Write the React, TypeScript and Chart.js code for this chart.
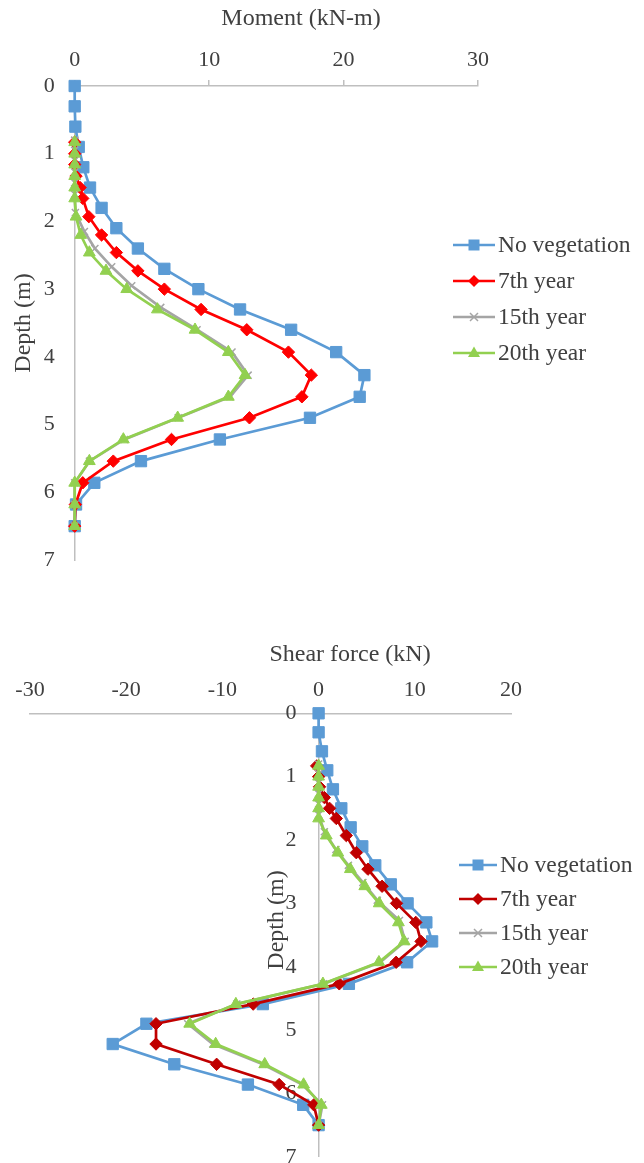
import React, { useEffect, useRef } from 'react';
import { Chart, registerables } from 'chart.js';

Chart.register(...registerables);

// ---------- data ----------
const seriesNames = ['No vegetation', '7th year', '15th year', '20th year'];

const depthTicks = [0, 1, 2, 3, 4, 5, 6, 7];
const momentTicks = [0, 10, 20, 30];
const shearTicks = [-30, -20, -10, 0, 10, 20];

const depthNoVeg = [0, 0.3, 0.6, 0.9, 1.2, 1.5, 1.8, 2.1, 2.4, 2.7, 3.0, 3.3, 3.6, 3.93, 4.27, 4.59, 4.9, 5.22, 5.54, 5.86, 6.18, 6.5];
const depthVeg = [0.83, 1.0, 1.16, 1.33, 1.5, 1.66, 1.93, 2.2, 2.46, 2.73, 3.0, 3.3, 3.6, 3.93, 4.27, 4.59, 4.9, 5.22, 5.54, 5.86, 6.18, 6.5];
const depth15 = [0.8, 0.95, 1.1, 1.27, 1.43, 1.6, 1.87, 2.15, 2.4, 2.67, 2.95, 3.27, 3.6, 3.93, 4.27, 4.59, 4.9, 5.22, 5.54, 5.86, 6.18, 6.5];

const momentNoVeg = [0, 0, 0.05, 0.3, 0.64, 1.14, 2.0, 3.1, 4.7, 6.67, 9.2, 12.3, 16.1, 19.45, 21.55, 21.2, 17.5, 10.8, 4.93, 1.46, 0.1, 0];
const moment7 = [0, 0, 0, 0.1, 0.4, 0.6, 1.05, 2.0, 3.1, 4.7, 6.67, 9.4, 12.8, 15.9, 17.6, 16.9, 13.0, 7.2, 2.87, 0.6, 0.05, 0];
const moment15 = [0, 0, 0, 0, 0, 0, 0.05, 0.72, 1.5, 2.75, 4.24, 6.4, 9.1, 11.7, 12.9, 11.55, 7.7, 3.7, 1.1, 0, 0, 0];
const moment20 = [0, 0, 0, 0, 0, 0, 0.1, 0.45, 1.09, 2.33, 3.87, 6.15, 8.95, 11.43, 12.67, 11.43, 7.66, 3.62, 1.09, 0, 0, 0];

const shearNoVeg = [0, 0, 0.35, 0.9, 1.49, 2.36, 3.33, 4.54, 5.89, 7.5, 9.25, 11.2, 11.8, 9.2, 3.15, -5.8, -17.9, -21.4, -15, -7.35, -1.6, 0];
const shear7 = [-0.2, 0, 0.1, 0.6, 1.14, 1.84, 2.88, 3.92, 5.13, 6.6, 8.1, 10.1, 10.65, 8.06, 2.15, -6.8, -16.9, -16.9, -10.6, -4.1, -0.5, 0];
const shear15 = [0, 0, 0, 0, 0, 0, 0.6, 1.8, 3.1, 4.6, 6.1, 8.4, 9.0, 6.4, 0.5, -8.5, -13.6, -11.0, -5.8, -1.7, 0.4, 0];
const shear20 = [0, 0, 0, 0, 0, 0, 0.8, 2.0, 3.3, 4.8, 6.3, 8.3, 8.9, 6.27, 0.45, -8.6, -13.4, -10.7, -5.6, -1.56, 0.28, 0];

// ---------- styles ----------
const FONT = 'Liberation Serif';
const TEXT = '#404040';
const AXIS = '#BFBFBF';
const BLUE = '#5B9BD5';
const RED_TOP = '#FF0000';
const RED_BOTTOM = '#C00000';
const GRAY = '#A5A5A5';
const GREEN = '#92D050';

const STYLES = ['rect', 'rectRot', 'crossRot', 'triangle'];
const RADII = [8, 6.2, 5, 6.8];

function series(i: number, xs: number[], ys: number[], color: string) {
  const style = STYLES[i];
  return {
    label: seriesNames[i],
    data: xs.map((v, k) => ({ x: v, y: ys[k] })),
    showLine: true,
    borderColor: color,
    backgroundColor: color,
    borderWidth: 2.7,
    pointStyle: style,
    pointRadius: RADII[i],
    pointHoverRadius: RADII[i],
    pointBorderWidth: style === 'crossRot' ? 1.5 : 1,
    pointBackgroundColor: color,
    pointBorderColor: color,
    order: 3 - i,
    tension: 0,
    clip: false as any,
  };
}

function drawMarker(ctx: CanvasRenderingContext2D, style: string, x: number, y: number, color: string) {
  ctx.save();
  ctx.fillStyle = color;
  ctx.strokeStyle = color;
  ctx.lineWidth = 1.5;
  ctx.beginPath();
  if (style === 'rect') {
    ctx.rect(x - 5.5, y - 5.5, 11, 11);
    ctx.fill();
  } else if (style === 'rectRot') {
    ctx.moveTo(x, y - 6);
    ctx.lineTo(x + 6, y);
    ctx.lineTo(x, y + 6);
    ctx.lineTo(x - 6, y);
    ctx.closePath();
    ctx.fill();
  } else if (style === 'crossRot') {
    ctx.moveTo(x - 4, y - 4);
    ctx.lineTo(x + 4, y + 4);
    ctx.moveTo(x + 4, y - 4);
    ctx.lineTo(x - 4, y + 4);
    ctx.stroke();
  } else {
    ctx.moveTo(x, y - 6.5);
    ctx.lineTo(x + 6, y + 4);
    ctx.lineTo(x - 6, y + 4);
    ctx.closePath();
    ctx.fill();
  }
  ctx.restore();
}

function legendPlugin(colors: string[], x1: number, x2: number, textX: number, ys: number[]) {
  return {
    id: 'customLegend',
    afterDraw(chart: any) {
      const ctx: CanvasRenderingContext2D = chart.ctx;
      ctx.save();
      ctx.font = `23.5px "${FONT}"`;
      ctx.textBaseline = 'middle';
      ctx.textAlign = 'left';
      seriesNames.forEach((name, i) => {
        const y = ys[i];
        ctx.strokeStyle = colors[i];
        ctx.lineWidth = 2.7;
        ctx.beginPath();
        ctx.moveTo(x1, y);
        ctx.lineTo(x2, y);
        ctx.stroke();
        drawMarker(ctx, STYLES[i], (x1 + x2) / 2, y, colors[i]);
        ctx.fillStyle = TEXT;
        ctx.fillText(name, textX, y + 1);
      });
      ctx.restore();
    },
  };
}

function titlesPlugin(xTitle: string, xPos: [number, number], yTitle: string, yPos: [number, number]) {
  return {
    id: 'customTitles',
    afterDraw(chart: any) {
      const ctx: CanvasRenderingContext2D = chart.ctx;
      ctx.save();
      ctx.font = `24px "${FONT}"`;
      ctx.fillStyle = TEXT;
      ctx.textAlign = 'center';
      ctx.textBaseline = 'middle';
      ctx.fillText(xTitle, xPos[0], xPos[1]);
      ctx.translate(yPos[0], yPos[1]);
      ctx.rotate(-Math.PI / 2);
      ctx.fillText(yTitle, 0, 0);
      ctx.restore();
    },
  };
}

const tickFont = { family: FONT, size: 22 };

export default function App() {
  const topRef = useRef<HTMLCanvasElement>(null);
  const botRef = useRef<HTMLCanvasElement>(null);

  useEffect(() => {
    const top = new Chart(topRef.current as HTMLCanvasElement, {
      type: 'scatter',
      data: {
        datasets: [
          series(0, momentNoVeg, depthNoVeg, BLUE),
          series(1, moment7, depthVeg, RED_TOP),
          series(2, moment15, depth15, GRAY),
          series(3, moment20, depthVeg, GREEN),
        ] as any,
      },
      options: {
        responsive: false,
        animation: false,
        events: [],
        layout: { padding: { left: 0, right: 166, top: 0, bottom: 40 } },
        plugins: { legend: { display: false }, tooltip: { enabled: false } },
        scales: {
          x: {
            type: 'linear',
            position: 'top',
            min: momentTicks[0],
            max: momentTicks[momentTicks.length - 1],
            ticks: { stepSize: momentTicks[1] - momentTicks[0], font: tickFont, color: TEXT, padding: 7 },
            grid: { display: true, drawOnChartArea: false, drawTicks: true, tickLength: 6, color: AXIS, lineWidth: 1.5 },
            border: { display: true, color: AXIS, width: 1.5 },
            afterFit: (s: any) => { s.height = 86; },
          },
          y: {
            type: 'linear',
            position: 'left',
            reverse: true,
            min: depthTicks[0],
            max: depthTicks[depthTicks.length - 1],
            ticks: { stepSize: 1, font: tickFont, color: TEXT, padding: 20 },
            grid: { display: false, drawTicks: false },
            border: { display: true, color: AXIS, width: 1.5 },
            afterFit: (s: any) => { s.width = 74.7; },
          },
        },
      } as any,
      plugins: [
        titlesPlugin('Moment (kN-m)', [301, 19], 'Depth (m)', [24, 323]),
        legendPlugin([BLUE, RED_TOP, GRAY, GREEN], 453, 495, 498, [245, 281, 317, 353]),
      ],
    });

    const bot = new Chart(botRef.current as HTMLCanvasElement, {
      type: 'scatter',
      data: {
        datasets: [
          series(0, shearNoVeg, depthNoVeg, BLUE),
          series(1, shear7, depthVeg, RED_BOTTOM),
          series(2, shear15, depth15, GRAY),
          series(3, shear20, depthVeg, GREEN),
        ] as any,
      },
      options: {
        responsive: false,
        animation: false,
        events: [],
        layout: { padding: { left: 30, right: 133, top: 0, bottom: 13.2 } },
        plugins: { legend: { display: false }, tooltip: { enabled: false } },
        scales: {
          x: {
            type: 'linear',
            position: 'top',
            min: shearTicks[0],
            max: shearTicks[shearTicks.length - 1],
            ticks: { stepSize: shearTicks[1] - shearTicks[0], font: tickFont, color: TEXT, padding: 10 },
            grid: { display: false, drawTicks: false },
            border: { display: true, color: AXIS, width: 1.5 },
            afterFit: (s: any) => { s.height = 113.3; },
          },
          y: {
            type: 'linear',
            position: { x: 0 },
            reverse: true,
            min: depthTicks[0],
            max: depthTicks[depthTicks.length - 1],
            ticks: {
              stepSize: 1,
              font: tickFont,
              color: TEXT,
              padding: 21,
              callback: (v: any) => `${v}\u2003`,
            },
            grid: { display: false, drawTicks: false },
            border: { display: true, color: AXIS, width: 1.5 },
            afterFit: (s: any) => { s.paddingTop = 0; s.paddingBottom = 0; },
          },
        },
      } as any,
      plugins: [
        titlesPlugin('Shear force (kN)', [350, 55], 'Depth (m)', [277, 320]),
        legendPlugin([BLUE, RED_BOTTOM, GRAY, GREEN], 459, 497, 500, [265, 299, 333, 367]),
      ],
    });

    return () => {
      top.destroy();
      bot.destroy();
    };
  }, []);

  return (
    <div style={{ position: 'absolute', left: 0, top: 0, width: 644, height: 1163, overflow: 'hidden', background: '#fff' }}>
      <canvas ref={topRef} width={644} height={600} style={{ display: 'block', width: 644, height: 600 }} />
      <canvas ref={botRef} width={644} height={570} style={{ display: 'block', width: 644, height: 570 }} />
    </div>
  );
}
